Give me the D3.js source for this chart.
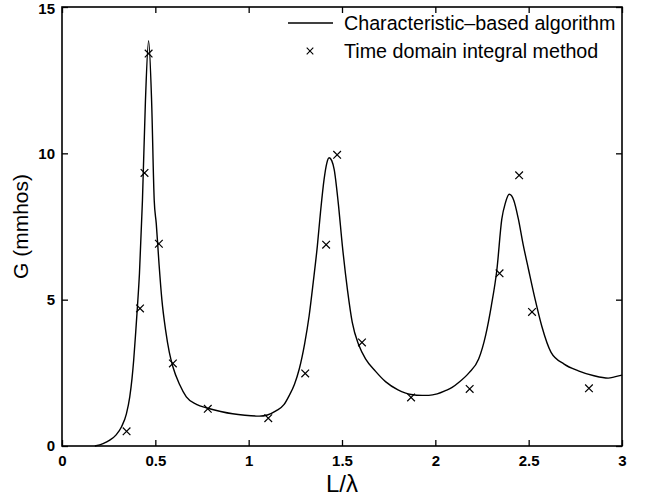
<!DOCTYPE html>
<html>
<head>
<meta charset="utf-8">
<script src="https://cdn.jsdelivr.net/npm/d3@7"></script>
<style>
  body { margin: 0; background: #fff; }
  text { font-family: "Liberation Sans", Arial, Helvetica, sans-serif; fill: #000; }
</style>
</head>
<body>
<div id="chart"></div>
<script>
/* G vs L/lambda: characteristic-based curve and time domain markers */

// curve (L/lambda, G in mmhos)
const curveX = [0.176, 0.22, 0.256, 0.29, 0.319, 0.345, 0.363, 0.375, 0.384, 0.395, 0.404, 0.415,
    0.431, 0.447, 0.464, 0.480, 0.494, 0.505, 0.52, 0.535, 0.555, 0.575, 0.594, 0.63, 0.666, 0.72,
    0.781, 0.85, 0.914, 0.98, 1.057, 1.10, 1.146, 1.19, 1.217, 1.245, 1.271, 1.30, 1.324, 1.346,
    1.368, 1.385, 1.404, 1.418, 1.431, 1.445, 1.458, 1.48, 1.502, 1.53, 1.555, 1.59, 1.627, 1.68,
    1.733, 1.80, 1.87, 1.93, 1.965, 2.01, 2.054, 2.09, 2.125, 2.18, 2.232, 2.27, 2.30, 2.33, 2.356,
    2.375, 2.396, 2.42, 2.445, 2.47, 2.499, 2.535, 2.57, 2.62, 2.69, 2.766, 2.85, 2.926, 2.96, 3.0];
const curveG = [0, 0.08, 0.2, 0.38, 0.66, 1.1, 1.68, 2.3, 2.93, 3.9, 4.75, 5.9,
    8.4, 11.8, 13.85, 11.8, 8.4, 7.6, 6.2, 5.0, 3.96, 3.2, 2.71, 2.1, 1.68, 1.42,
    1.29, 1.18, 1.1, 1.05, 1.02, 1.06, 1.2, 1.42, 1.72, 2.1, 2.63, 3.5, 4.45, 5.6,
    6.84, 8.0, 9.11, 9.65, 9.85, 9.75, 9.45, 8.3, 6.84, 5.3, 4.22, 3.45, 2.97, 2.55,
    2.2, 1.92, 1.76, 1.73, 1.73, 1.78, 1.89, 2.0, 2.17, 2.5, 2.97, 3.8, 4.79, 6.04, 7.75,
    8.3, 8.6, 8.4, 7.75, 6.9, 6.04, 5.0, 4.1, 3.2, 2.8, 2.57, 2.4, 2.32, 2.36, 2.42];

// time domain integral method markers
const markX = [0.346, 0.418, 0.442, 0.464, 0.519, 0.594, 0.781, 1.105, 1.303, 1.415, 1.474,
    1.607, 1.870, 2.184, 2.344, 2.449, 2.518, 2.823];
const markG = [0.50, 4.70, 9.33, 13.41, 6.91, 2.82, 1.27, 0.95, 2.48, 6.88, 9.95,
    3.54, 1.66, 1.95, 5.90, 9.25, 4.58, 1.97];

const xTicks = [0, 0.5, 1, 1.5, 2, 2.5, 3];
const yTicks = [0, 5, 10, 15];
const legendLabels = ["Characteristic\u2013based algorithm", "Time domain integral method"];

const width = 649,
      height = 501,
      margin = ({ top: 7, right: 27, bottom: 55, left: 62 });

let svg = d3.select("#chart")
    .append("svg")
    .attr("width", width)
    .attr("height", height)
    .attr("viewBox", [0, 0, width, height]);

const x = d3.scaleLinear()
    .domain([0, 3])
    .range([margin.left, width - margin.right]);

const y = d3.scaleLinear()
    .domain([0, 15])
    .range([height - margin.bottom, margin.top]);

/* ticks point inward, like the original */
const xAxis = g => g
    .attr("transform", `translate(0, ${height - margin.bottom})`)
    .call(d3.axisBottom(x).tickValues(xTicks).tickFormat(d3.format("")).tickSize(-6).tickSizeOuter(0).tickPadding(9))
    .call(g => g.select(".domain").remove());

const yAxis = g => g
    .attr("transform", `translate(${margin.left}, 0)`)
    .call(d3.axisLeft(y).tickValues(yTicks).tickSize(-6).tickSizeOuter(0).tickPadding(7))
    .call(g => g.select(".domain").remove())
    .call(g => g.selectAll(".tick text").filter(d => d === 15).attr("dy", "0.45em"));

const topAxis = g => g
    .attr("transform", `translate(0, ${margin.top})`)
    .call(d3.axisTop(x).tickValues(xTicks).tickFormat("").tickSize(-6).tickSizeOuter(0))
    .call(g => g.select(".domain").remove());

const rightAxis = g => g
    .attr("transform", `translate(${width - margin.right}, 0)`)
    .call(d3.axisRight(y).tickValues(yTicks).tickFormat("").tickSize(-6).tickSizeOuter(0))
    .call(g => g.select(".domain").remove());

for (const ax of [xAxis, yAxis, topAxis, rightAxis]) {
    svg.append("g")
        .call(ax)
        .call(g => g.selectAll("line").attr("stroke", "#000").attr("stroke-width", 1.3))
        .call(g => g.selectAll("text")
            .attr("font-size", 15)
            .attr("font-weight", "bold")
            .attr("font-family", "Liberation Sans, Arial, sans-serif"));
}

/* plot frame */
svg.append("rect")
    .attr("x", x(0))
    .attr("y", y(15))
    .attr("width", x(3) - x(0))
    .attr("height", y(0) - y(15))
    .attr("fill", "none")
    .attr("stroke", "#000")
    .attr("stroke-width", 1.6);

/* curve */
const curveData = curveX.map((v, i) => ({ x: v, g: curveG[i] }));
const line = d3.line()
    .x(d => x(d.x))
    .y(d => y(d.g))
    .curve(d3.curveMonotoneX);

svg.append("path")
    .datum(curveData)
    .attr("fill", "none")
    .attr("stroke", "#000")
    .attr("stroke-width", 1.4)
    .attr("d", line);

/* x markers */
const markData = markX.map((v, i) => ({ x: v, g: markG[i] }));
const cross = d3.symbol().type(d3.symbolX).size(40);

svg.selectAll(".mark")
    .data(markData)
    .join("path")
    .attr("class", "mark")
    .attr("transform", d => `translate(${x(d.x)}, ${y(d.g)})`)
    .attr("d", cross)
    .attr("fill", "none")
    .attr("stroke", "#000")
    .attr("stroke-width", 1.2);

/* axis labels */
svg.append("text")
    .attr("x", (x(0) + x(3)) / 2)
    .attr("y", 492)
    .attr("text-anchor", "middle")
    .attr("font-size", 24)
    .text("L/\u03bb");

svg.append("text")
    .attr("transform", `translate(28, ${y(7.5)}) rotate(-90)`)
    .attr("text-anchor", "middle")
    .attr("font-size", 21)
    .text("G (mmhos)");

/* legend */
let legend = svg.append("g");

legend.append("line")
    .attr("x1", 288).attr("x2", 333)
    .attr("y1", 23).attr("y2", 23)
    .attr("stroke", "#000")
    .attr("stroke-width", 1.4);

legend.append("path")
    .attr("transform", "translate(310, 51)")
    .attr("d", d3.symbol().type(d3.symbolX).size(30))
    .attr("stroke", "#000")
    .attr("stroke-width", 1.1);

legend.selectAll(".lab")
    .data(legendLabels)
    .join("text")
    .attr("class", "lab")
    .attr("x", 344)
    .attr("y", (d, i) => 30 + i * 28)
    .attr("font-size", 19.7)
    .text(d => d);
</script>
</body>
</html>
